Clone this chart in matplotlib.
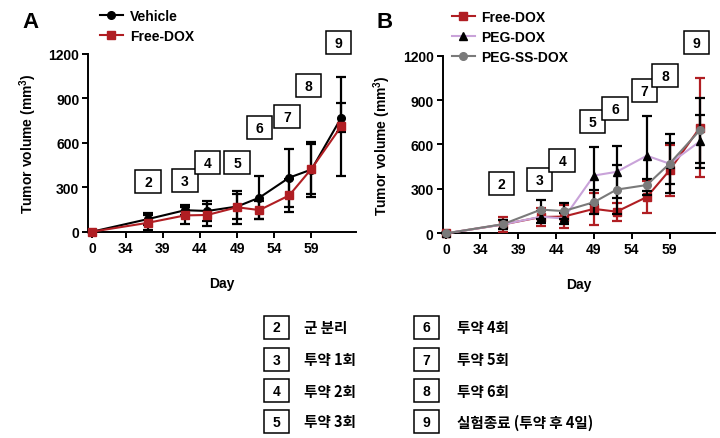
import matplotlib
matplotlib.use("Agg")
import matplotlib.pyplot as plt
from matplotlib.lines import Line2D
from matplotlib.patches import Rectangle
from matplotlib.transforms import ScaledTranslation

plt.rcParams["font.family"] = ["Liberation Sans", "DejaVu Sans"]
plt.rcParams["font.weight"] = "bold"
plt.rcParams["axes.labelweight"] = "bold"
plt.rcParams["mathtext.fontset"] = "custom"
plt.rcParams["mathtext.bf"] = "Liberation Sans:bold"
plt.rcParams["mathtext.rm"] = "Liberation Sans:bold"

RED = "#B01E23"
GRAYC = "#7A7A7A"
LILAC = "#C9A3D9"

# measurement days and tumour volume (mean, sd), mm^3
days = [0, 37, 42, 45, 49, 52, 56, 59, 63]
vehicle_mean = [0, 85, 145, 140, 170, 230, 365, 420, 770]
vehicle_sd = [0, 40, 35, 65, 85, 145, 195, 185, 100]
freedox_mean = [0, 60, 110, 113, 165, 146, 245, 425, 712]
freedox_sd = [0, 50, 58, 75, 110, 60, 110, 170, 335]
pegdox_mean = [0, 60, 112, 100, 390, 415, 524, 470, 620]
pegdox_sd = [0, 30, 40, 40, 195, 175, 265, 200, 180]
pegss_mean = [0, 62, 160, 150, 210, 295, 326, 470, 695]
pegss_sd = [0, 30, 65, 55, 80, 165, 40, 140, 220]

xtick_days = [0, 34, 39, 44, 49, 54, 59]
yticks = [0, 300, 600, 900, 1200]

# event markers: label, day, height (mm^3) for each panel
event_labels = ["2", "3", "4", "5", "6", "7", "8", "9"]
event_days_a = [37, 42, 45, 49, 52, 55.7, 58.6, 62.6]
event_y_a = [336, 343, 470, 470, 707, 775, 985, 1275]
event_days_b = [36.8, 41.8, 44.8, 48.8, 51.8, 55.7, 58.4, 62.6]
event_y_b = [333, 362, 491, 754, 840, 963, 1065, 1290]

key_left = ["2", "3", "4", "5"]
key_left_text = ["군 분리", "투약 1회", "투약 2회", "투약 3회"]
key_right = ["6", "7", "8", "9"]
key_right_text = ["투약 4회", "투약 5회", "투약 6회", "실험종료 (투약 후 4일)"]

BOX_W, BOX_H = 0.255, 0.23  # inches


def pos(d):
    # broken day axis: 0 then 34.. on a compressed scale
    return 0 if d == 0 else d - 29.5


def series(ax, mean, sd, color, mfc, marker, ecolor, z):
    x = [pos(d) for d in days]
    ax.errorbar(x, mean, yerr=sd, color=color, ecolor=ecolor, marker=marker,
                mfc=mfc, mec=mfc, ms=5.5, lw=1.5, elinewidth=1.6, capsize=3.5,
                capthick=1.6, zorder=z, clip_on=False)


def style(ax):
    ax.set_xlim(-0.5, 35.5)
    ax.set_ylim(0, 1200)
    ax.set_xticks([pos(d) for d in xtick_days])
    ax.set_xticklabels([str(d) for d in xtick_days])
    ax.set_yticks(yticks)
    for s in ("top", "right"):
        ax.spines[s].set_visible(False)
    for s in ("left", "bottom"):
        ax.spines[s].set_linewidth(1.4)
    ax.tick_params(direction="out", length=4.5, width=1.4, labelsize=10, pad=2)
    ax.set_ylabel(r"Tumor volume (mm$^{3}$)", fontsize=10, labelpad=7)
    ax.set_xlabel("Day", fontsize=10, labelpad=15)


def numbox(x, y, lab, base, z=10):
    tr = fig.dpi_scale_trans + ScaledTranslation(x, y, base)
    fig.add_artist(Rectangle((-BOX_W / 2, -BOX_H / 2), BOX_W, BOX_H, transform=tr,
                             fc="white", ec="black", lw=1.1, zorder=z))
    fig.add_artist(plt.Text(0, -0.005, lab, transform=tr, ha="center", va="center",
                            fontsize=10, fontweight="bold", zorder=z + 0.5))


def events(ax, dlist, ylist):
    for i, (lab, d, y) in enumerate(zip(event_labels, dlist, ylist)):
        numbox(pos(d), y, lab, ax.transData, z=10 + i)


fig = plt.figure(figsize=(7.2, 4.39), dpi=100)
axA = fig.add_axes([88.3 / 720, 1 - 232.7 / 439, 0.372, 177.7 / 439])
axB = fig.add_axes([442.7 / 720, 1 - 234.3 / 439, 0.378, 177.7 / 439])

series(axA, vehicle_mean, vehicle_sd, "black", "black", "o", "black", 4)
series(axA, freedox_mean, freedox_sd, RED, RED, "s", "black", 5)
style(axA)
events(axA, event_days_a, event_y_a)

series(axB, freedox_mean, freedox_sd, RED, RED, "s", RED, 3)
series(axB, pegdox_mean, pegdox_sd, LILAC, "black", "^", "black", 4)
series(axB, pegss_mean, pegss_sd, GRAYC, GRAYC, "o", "black", 5)
style(axB)
events(axB, event_days_b, event_y_b)

fig.text(22 / 720, 1 - 22 / 439, "A", fontsize=16, ha="left", va="center")
fig.text(376 / 720, 1 - 23 / 439, "B", fontsize=16, ha="left", va="center")


def handle(color, mfc, marker):
    return Line2D([], [], color=color, marker=marker, mfc=mfc, mec=mfc, ms=5.5, lw=1.5)


fig.legend([handle("black", "black", "o"), handle(RED, RED, "s")],
           ["Vehicle", "Free-DOX"], loc="upper left",
           bbox_to_anchor=(94 / 720, 1 - 4 / 439), frameon=False,
           prop=dict(size=10, weight="bold"), handlelength=1.7,
           handletextpad=0.5, labelspacing=0.45, borderaxespad=0)
fig.legend([handle(RED, RED, "s"), handle(LILAC, "black", "^"),
            handle(GRAYC, GRAYC, "o")],
           ["Free-DOX", "PEG-DOX", "PEG-SS-DOX"], loc="upper left",
           bbox_to_anchor=(446 / 720, 1 - 5 / 439), frameon=False,
           prop=dict(size=10, weight="bold"), handlelength=1.7,
           handletextpad=0.4, labelspacing=0.45, borderaxespad=0)

row_y = [328, 360.5, 391.5, 422.5]
kfam = ["Noto Sans CJK KR", "DejaVu Sans"]
for col_x, txt_x, labs, texts in ((276.7, 304, key_left, key_left_text),
                                  (426.7, 456.7, key_right, key_right_text)):
    for y, lab, t in zip(row_y, labs, texts):
        numbox(col_x / 720, 1 - y / 439, lab, fig.transFigure)
        fig.text(txt_x / 720, 1 - y / 439, t, ha="left", va="center", fontsize=10.5,
                 family=kfam, weight="bold")

fig.savefig("out.png", dpi=100)
